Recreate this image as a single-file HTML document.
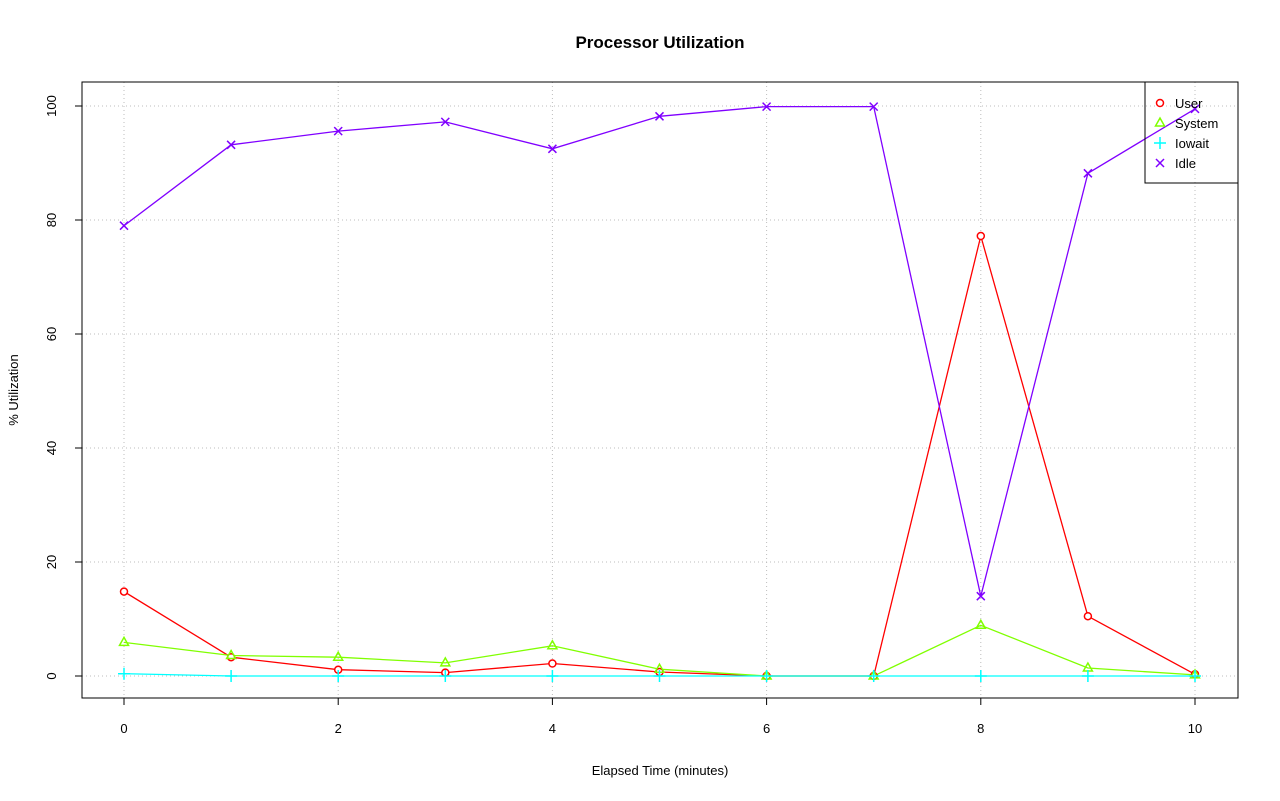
<!DOCTYPE html>
<html><head><style>body{margin:0;background:#fff}svg{display:block}text{font-family:"Liberation Sans",sans-serif;font-size:13px}</style></head><body>
<svg width="1280" height="801" xmlns="http://www.w3.org/2000/svg">
<text x="660" y="48" text-anchor="middle" style="font-size:17px;font-weight:bold">Processor Utilization</text>
<g stroke="#bdbdbd" stroke-dasharray="1,3" stroke-width="1">
<line x1="124" y1="82" x2="124" y2="698"/><line x1="338.2" y1="82" x2="338.2" y2="698"/><line x1="552.4" y1="82" x2="552.4" y2="698"/><line x1="766.6" y1="82" x2="766.6" y2="698"/><line x1="980.8" y1="82" x2="980.8" y2="698"/><line x1="1195" y1="82" x2="1195" y2="698"/>
<line x1="82" y1="676" x2="1238" y2="676"/><line x1="82" y1="562" x2="1238" y2="562"/><line x1="82" y1="448" x2="1238" y2="448"/><line x1="82" y1="334" x2="1238" y2="334"/><line x1="82" y1="220" x2="1238" y2="220"/><line x1="82" y1="106" x2="1238" y2="106"/>
</g>
<rect x="82" y="82" width="1156" height="616" fill="none" stroke="#000"/>
<g stroke="#000">
<line x1="124" y1="698" x2="124" y2="705"/><line x1="338.2" y1="698" x2="338.2" y2="705"/><line x1="552.4" y1="698" x2="552.4" y2="705"/><line x1="766.6" y1="698" x2="766.6" y2="705"/><line x1="980.8" y1="698" x2="980.8" y2="705"/><line x1="1195" y1="698" x2="1195" y2="705"/>
<line x1="82" y1="676" x2="75" y2="676"/><line x1="82" y1="562" x2="75" y2="562"/><line x1="82" y1="448" x2="75" y2="448"/><line x1="82" y1="334" x2="75" y2="334"/><line x1="82" y1="220" x2="75" y2="220"/><line x1="82" y1="106" x2="75" y2="106"/>
</g>
<g text-anchor="middle">
<text x="124" y="733">0</text><text x="338.2" y="733">2</text><text x="552.4" y="733">4</text><text x="766.6" y="733">6</text><text x="980.8" y="733">8</text><text x="1195" y="733">10</text>
<text x="660" y="775">Elapsed Time (minutes)</text>
<text transform="translate(56,676) rotate(-90)">0</text><text transform="translate(56,562) rotate(-90)">20</text><text transform="translate(56,448) rotate(-90)">40</text><text transform="translate(56,334) rotate(-90)">60</text><text transform="translate(56,220) rotate(-90)">80</text><text transform="translate(56,106) rotate(-90)">100</text>
<text transform="translate(18,390) rotate(-90)">% Utilization</text>
</g>
<g fill="none" stroke-width="1.3">
<polyline stroke="#ff0000" points="124,591.6 231.1,657.2 338.2,669.7 445.3,672.6 552.4,663.5 659.5,672 766.6,676 873.7,676 980.8,236 1087.9,616.2 1195,674.3"/>
<polyline stroke="#80ff00" points="124,642.4 231.1,655.5 338.2,657.2 445.3,662.9 552.4,645.8 659.5,669.2 766.6,676 873.7,676 980.8,625.3 1087.9,668 1195,674.9"/>
<polyline stroke="#00ffff" points="124,673.7 231.1,676 1195,676"/>
<polyline stroke="#8000ff" points="124,225.7 231.1,144.8 338.2,131.1 445.3,121.9 552.4,148.8 659.5,116.3 766.6,106.6 873.7,106.6 980.8,596.2 1087.9,173.3 1195,108.9"/>
</g>
<g fill="#fff" stroke="#ff0000" stroke-width="1.5">
<circle cx="124" cy="591.6" r="3.5"/><circle cx="231.1" cy="657.2" r="3.5"/><circle cx="338.2" cy="669.7" r="3.5"/><circle cx="445.3" cy="672.6" r="3.5"/><circle cx="552.4" cy="663.5" r="3.5"/><circle cx="659.5" cy="672" r="3.5"/><circle cx="766.6" cy="676" r="3.5"/><circle cx="873.7" cy="676" r="3.5"/><circle cx="980.8" cy="236" r="3.5"/><circle cx="1087.9" cy="616.2" r="3.5"/><circle cx="1195" cy="674.3" r="3.5"/>
<circle cx="1160" cy="103" r="3.5"/>
</g>
<g fill="none" stroke="#80ff00" stroke-width="1.5">
<path d="M124,637.4l4.5,8h-9z M231.1,650.5l4.5,8h-9z M338.2,652.2l4.5,8h-9z M445.3,657.9l4.5,8h-9z M552.4,640.8l4.5,8h-9z M659.5,664.2l4.5,8h-9z M766.6,671l4.5,8h-9z M873.7,671l4.5,8h-9z M980.8,620.3l4.5,8h-9z M1087.9,663l4.5,8h-9z M1195,669.9l4.5,8h-9z M1160,118l4.5,8h-9z"/>
</g>
<g stroke="#00ffff" stroke-width="1.5">
<path d="M118,673.7h12M124,667.7v12 M225.1,676h12M231.1,670v12 M332.2,676h12M338.2,670v12 M439.3,676h12M445.3,670v12 M546.4,676h12M552.4,670v12 M653.5,676h12M659.5,670v12 M760.6,676h12M766.6,670v12 M867.7,676h12M873.7,670v12 M974.8,676h12M980.8,670v12 M1081.9,676h12M1087.9,670v12 M1189,676h12M1195,670v12 M1154,143h12M1160,137v12"/>
</g>
<g stroke="#8000ff" stroke-width="1.5">
<path d="M120,221.7l8,8m0,-8l-8,8 M227.1,140.8l8,8m0,-8l-8,8 M334.2,127.1l8,8m0,-8l-8,8 M441.3,117.9l8,8m0,-8l-8,8 M548.4,144.8l8,8m0,-8l-8,8 M655.5,112.3l8,8m0,-8l-8,8 M762.6,102.6l8,8m0,-8l-8,8 M869.7,102.6l8,8m0,-8l-8,8 M976.8,592.2l8,8m0,-8l-8,8 M1083.9,169.3l8,8m0,-8l-8,8 M1191,104.9l8,8m0,-8l-8,8 M1156,159l8,8m0,-8l-8,8"/>
</g>
<rect x="1145" y="82" width="93" height="101" fill="none" stroke="#000"/>
<text x="1175" y="108">User</text><text x="1175" y="128">System</text><text x="1175" y="148">Iowait</text><text x="1175" y="168">Idle</text>
</svg>
</body></html>
